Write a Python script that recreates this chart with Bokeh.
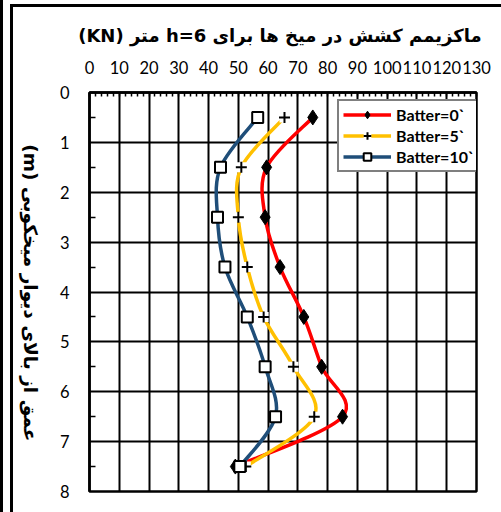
from bokeh.plotting import figure
from bokeh.models import (Range1d, FixedTicker, ColumnDataSource, Legend, LegendItem, Label)
from bokeh.layouts import row
from bokeh.embed import file_html
from bokeh.resources import INLINE
import math

# ---- data ----
depth = [0.5, 1.5, 2.5, 3.5, 4.5, 5.5, 6.5, 7.5]
batter0 = [75, 59.5, 59, 64, 72, 78, 85, 49]
batter5 = [65.5, 51, 50, 53, 58.5, 68.5, 75.5, 52.5]
batter10 = [56.5, 44, 43, 45.5, 53, 59, 62.5, 50.5]
series_names = ["Batter=0`", "Batter=5`", "Batter=10`"]
x_ticks = list(range(0, 131, 10))
y_ticks = list(range(0, 9))

title_text = "\u202Bماکزیمم کشش در میخ ها برای  h=6 متر (KN)\u202C"
ylabel_text = "\u202Bعمق از بالای دیوار میخکوبی (m)\u202C"

FONT = "Lato"
AFONT = "DejaVu Sans"
LEFT_W = 45


def smooth_source(xs, ys):
    """Bezier segments (Catmull-Rom style) between consecutive points."""
    n = len(xs)
    d = dict(x0=[], y0=[], x1=[], y1=[], cx0=[], cy0=[], cx1=[], cy1=[])
    for i in range(n - 1):
        pm = i - 1 if i > 0 else i
        pp = i + 2 if i + 2 < n else i + 1
        d["x0"].append(xs[i]); d["y0"].append(ys[i])
        d["x1"].append(xs[i + 1]); d["y1"].append(ys[i + 1])
        d["cx0"].append(xs[i] + (xs[i + 1] - xs[pm]) / 6)
        d["cy0"].append(ys[i] + (ys[i + 1] - ys[pm]) / 6)
        d["cx1"].append(xs[i + 1] - (xs[pp] - xs[i]) / 6)
        d["cy1"].append(ys[i + 1] - (ys[pp] - ys[i]) / 6)
    return ColumnDataSource(d)


# ---- left strip: y-axis title (rotated clockwise) ----
left = figure(width=LEFT_W, height=512, x_range=Range1d(0, LEFT_W), y_range=Range1d(512, 0),
              x_axis_type=None, y_axis_type=None, output_backend="svg", toolbar_location=None,
              min_border=0)
left.outline_line_color = None
left.background_fill_color = None
left.border_fill_color = None
left.grid.visible = False
left.styles = {
    "background-color": "white",
    "background-image": "linear-gradient(black, black), linear-gradient(black, black), "
                        "linear-gradient(black, black)",
    "background-size": "3px 100%, 3px 100%, 100% 3px",
    "background-position": "0px 0px, 10px 4px, 10px 4px",
    "background-repeat": "no-repeat",
}
left.add_layout(Label(x=30, y=257, text=ylabel_text, angle=-math.pi / 2,
                      text_align="center", text_baseline="middle",
                      text_font=AFONT, text_font_size="18.5px", text_font_style="bold",
                      text_color="black"))

# ---- main chart ----
p = figure(width=501 - LEFT_W, height=512, x_range=Range1d(0, 130), y_range=Range1d(8, 0),
           x_axis_location="above", output_backend="svg", toolbar_location=None,
           min_border_left=89 - LEFT_W, min_border_right=25, min_border_top=92,
           min_border_bottom=21)
p.background_fill_color = "white"
p.border_fill_color = None
p.outline_line_color = "black"
p.outline_line_width = 2.5
p.styles = {
    "background-color": "white",
    "background-image": "linear-gradient(black, black)",
    "background-size": "100% 3px",
    "background-position": "0px 4px",
    "background-repeat": "no-repeat",
}

# title
p.title.text = title_text
p.title.align = "center"
p.title.text_font = AFONT
p.title.text_font_size = "18px"
p.title.text_font_style = "bold"
p.title.text_color = "black"
p.title.standoff = 23

# axes
xa = p.xaxis[0]
xa.ticker = FixedTicker(ticks=x_ticks, minor_ticks=list(range(0, 131, 2)))
xa.major_label_text_font = FONT
xa.major_label_text_font_size = "16.5px"
xa.major_label_text_color = "black"
xa.major_label_standoff = 19
xa.axis_line_color = "black"
xa.axis_line_width = 2.5
xa.major_tick_in = 0
xa.major_tick_out = 0
xa.minor_tick_in = 4
xa.minor_tick_out = 0
xa.minor_tick_line_color = "black"
xa.minor_tick_line_width = 1.5

ya = p.yaxis[0]
ya.ticker = FixedTicker(ticks=y_ticks, minor_ticks=[v + 0.5 for v in y_ticks[:-1]])
ya.major_label_text_font = FONT
ya.major_label_text_font_size = "16.5px"
ya.major_label_text_color = "black"
ya.major_label_standoff = 20
ya.axis_line_color = "black"
ya.axis_line_width = 2.5
ya.major_tick_in = 0
ya.major_tick_out = 0
ya.minor_tick_in = 6
ya.minor_tick_out = 0
ya.minor_tick_line_color = "black"
ya.minor_tick_line_width = 1.5

p.xgrid.grid_line_color = "black"
p.xgrid.grid_line_width = 2
p.ygrid.grid_line_color = "black"
p.ygrid.grid_line_width = 2

# series
colors = ["#FF0000", "#FFC000", "#1F4E79"]
items = []
for name, vals, col in zip(series_names, [batter0, batter5, batter10], colors):
    src = smooth_source(vals, depth)
    lr = p.bezier(x0="x0", y0="y0", x1="x1", y1="y1", cx0="cx0", cy0="cy0",
                  cx1="cx1", cy1="cy1", source=src, line_color=col, line_width=3.5)
    pts = ColumnDataSource(dict(x=vals, y=depth))
    rends = [lr]
    if name == "Batter=0`":
        rends.append(p.scatter("x", "y", source=pts, marker="diamond", size=15,
                               fill_color="black", line_color="black"))
    elif name == "Batter=5`":
        rends.append(p.scatter("x", "y", source=pts, marker="square", size=10,
                               fill_color="white", line_color=None))
        rends.append(p.scatter("x", "y", source=pts, marker="cross", size=11,
                               line_color="black", line_width=2))
    else:
        rends.append(p.scatter("x", "y", source=pts, marker="square", size=11,
                               fill_color="white", line_color="black", line_width=2))
    items.append(LegendItem(label=name, renderers=rends))

legend = Legend(items=items, location=(248, 319))
legend.label_text_font = FONT
legend.label_text_font_size = "16px"
legend.label_text_font_style = "bold"
legend.label_text_color = "black"
legend.border_line_color = "black"
legend.border_line_width = 2
legend.background_fill_color = "white"
legend.background_fill_alpha = 1
legend.padding = 4
legend.margin = 0
legend.spacing = 2
legend.glyph_width = 48
legend.glyph_height = 19
legend.label_height = 19
legend.label_standoff = 5
p.add_layout(legend, "center")

layout = row(left, p, spacing=0)
open("out.html", "w").write(file_html(layout, INLINE))
